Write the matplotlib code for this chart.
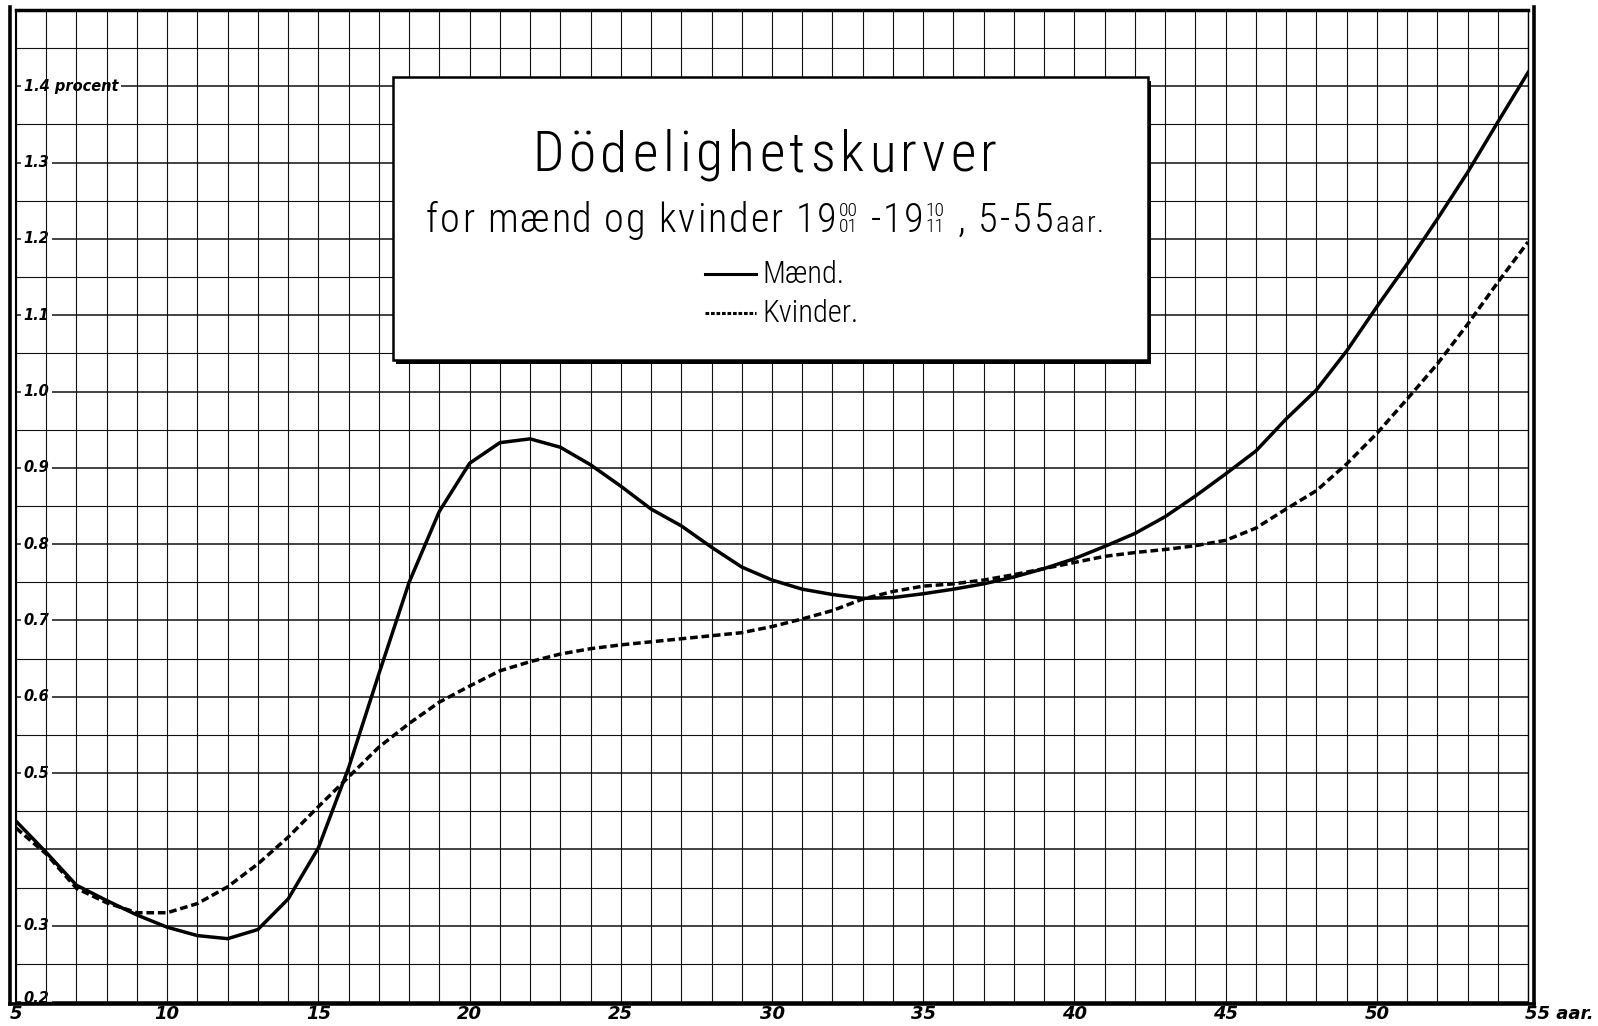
import numpy as np
import matplotlib.pyplot as plt
from matplotlib.patches import Rectangle
from matplotlib.lines import Line2D

# dødelighet i procent for hvert aar 5-55, aflæst fra kurvene
alder = np.arange(5, 56)
maend = [0.437, 0.396, 0.353, 0.333, 0.314, 0.298, 0.287, 0.283, 0.295, 0.335,
         0.402, 0.507, 0.630, 0.750, 0.843, 0.906, 0.933, 0.938, 0.927, 0.904,
         0.876, 0.846, 0.824, 0.796, 0.770, 0.753, 0.741, 0.734, 0.729, 0.730,
         0.735, 0.741, 0.748, 0.757, 0.768, 0.781, 0.797, 0.814, 0.836, 0.863,
         0.892, 0.922, 0.964, 1.002, 1.053, 1.111, 1.167, 1.226, 1.287, 1.353,
         1.418]
kvinder = [0.428, 0.394, 0.349, 0.330, 0.317, 0.317, 0.329, 0.351, 0.381, 0.416,
           0.456, 0.495, 0.534, 0.565, 0.593, 0.614, 0.634, 0.646, 0.656, 0.663,
           0.668, 0.672, 0.676, 0.680, 0.684, 0.692, 0.702, 0.713, 0.728, 0.738,
           0.745, 0.748, 0.753, 0.760, 0.768, 0.776, 0.784, 0.789, 0.793, 0.798,
           0.805, 0.821, 0.846, 0.870, 0.905, 0.945, 0.990, 1.036, 1.088, 1.143,
           1.196]

ytick_vals = [1.4, 1.3, 1.2, 1.1, 1.0, 0.9, 0.8, 0.7, 0.6, 0.5, 0.3, 0.2]
ytick_txt = ['1.4 procent', '1.3', '1.2', '1.1', '1.0', '0.9', '0.8', '0.7',
             '0.6', '0.5', '0.3', '0.2']
xtick_vals = [5, 10, 15, 20, 25, 30, 35, 40, 45, 50, 55]
xtick_txt = ['5', '10', '15', '20', '25', '30', '35', '40', '45', '50', '55 aar.']

title_txt = 'Dödelighetskurver'
sub_parts = ['for mænd og kvinder 19', ('00', '01'), ' -19', ('10', '11'), ' , 5-55', 'aar.']
legend_txt = ['Mænd.', 'Kvinder.']

W, H = 1598, 1026
fig = plt.figure(figsize=(W / 100, H / 100), dpi=100)
ax = fig.add_axes([16 / W, 1 - 1002 / H, 1512 / W, 992 / H])
ax.set_xlim(5, 55)
ax.set_ylim(0.2, 1.5)
ax.set_xticks([])
ax.set_yticks([])

# rutenett
for yv in np.arange(0.2, 1.5001, 0.05):
    major = abs(yv * 10 - round(yv * 10)) < 1e-6
    ax.axhline(yv, color='#111', lw=1.1 if major else 0.8, zorder=1)
for xv in range(5, 56):
    ax.axvline(xv, color='#111', lw=0.8, zorder=2)

ax.spines['left'].set_linewidth(1.5)
ax.spines['top'].set_linewidth(2.5)
ax.spines['right'].set_linewidth(1.0)
ax.spines['bottom'].set_linewidth(1.0)
fig.add_artist(Line2D([10 / W, 10 / W], [1 - 7 / H, 1 - 1004 / H], lw=2.6, color='k'))
fig.add_artist(Line2D([10 / W, 1534 / W], [1 - 1004 / H, 1 - 1004 / H], lw=2.6, color='k'))
fig.add_artist(Line2D([1534 / W, 1534 / W], [1 - 7 / H, 1 - 1004 / H], lw=2.6, color='k'))

tick_font = dict(family='DejaVu Sans', fontweight='bold', fontstyle='italic')
for v, s in zip(ytick_vals, ytick_txt):
    ax.text(5.25, v + (0.004 if v == 0.2 else 0), s, fontsize=10.5, va='center', ha='left',
            zorder=1.5, bbox=dict(fc='white', ec='none', pad=1.8), **tick_font)
for v, s in zip(xtick_vals, xtick_txt):
    ax.text(v - 0.1 if s.endswith('.') else v, -0.012, s, transform=ax.get_xaxis_transform(),
            ha='left' if s.endswith('.') else 'center', va='center', fontsize=13,
            clip_on=False, **tick_font)

# kurvene
ax.plot(alder, maend, color='k', lw=2.5, solid_joinstyle='round', zorder=3)
ax.plot(alder, kvinder, color='k', lw=2.5, dashes=(2.2, 1.1), zorder=3)

# tittelboks
ax.add_patch(Rectangle((17.57, 1.036), 24.96, 0.371, fc='k', ec='none', zorder=3.9))
ax.add_patch(Rectangle((17.47, 1.041), 24.96, 0.371, fc='white', ec='k', lw=1.8, zorder=4))

box_font = dict(family=['Roboto Condensed', 'Roboto'], fontweight='light', color='k')


def chain(prev, s, yb, size):
    return ax.annotate(s, xy=(1, yb), xycoords=(prev, 'figure fraction'),
                       xytext=(0, 0), textcoords='offset points', fontsize=size,
                       va='baseline', ha='left', zorder=5, annotation_clip=False, **box_font)


def spread(first, linked, target_px):
    # sperret skrift: fordel ekstra luft likt mellom tegnene
    fig.canvas.draw()
    r = fig.canvas.get_renderer()
    last = linked[-1][0]
    w_now = last.get_window_extent(r).x1 - first.get_window_extent(r).x0
    sp = (target_px - w_now) / len(linked) * 72 / 100
    for art, dy in linked:
        art.xyann = (sp, dy)


# tittel
yb_t = 1 - 171 / H
t0 = fig.text(532 / W, yb_t, title_txt[0], fontsize=40, va='baseline', ha='left',
              zorder=5, **box_font)
links_t, prev = [], t0
for ch in title_txt[1:]:
    prev = chain(prev, ch, yb_t, 40)
    links_t.append((prev, 0))

# undertittel
yb_s = 1 - 232 / H
s0 = fig.text(426 / W, yb_s, sub_parts[0][0], fontsize=29, va='baseline', ha='left',
              zorder=5, **box_font)
links_s, prev = [], s0
for part in [sub_parts[0][1:]] + sub_parts[1:]:
    if isinstance(part, tuple):
        num = chain(prev, part[0], yb_s, 14)
        den = chain(prev, part[1], yb_s, 14)
        links_s += [(num, 11.5), (den, 0)]
        prev = num
    else:
        size = 21 if part == 'aar.' else 29
        for ch in part:
            prev = chain(prev, ch, yb_s, size)
            links_s.append((prev, 0))

# tegnforklaring
ax.plot([27.78, 29.47], [1.1535, 1.1535], color='k', lw=2.2, zorder=5)
ax.plot([27.78, 29.47], [1.1024, 1.1024], color='k', lw=2.2, dashes=(1.2, 0.6), zorder=5)
ax.text(29.67, 1.1535, legend_txt[0], fontsize=22, va='center', ha='left', zorder=5, **box_font)
ax.text(29.67, 1.1024, legend_txt[1], fontsize=22, va='center', ha='left', zorder=5, **box_font)

spread(t0, links_t, 465)
spread(s0, links_s, 682)

fig.savefig('out.png', dpi=100)
